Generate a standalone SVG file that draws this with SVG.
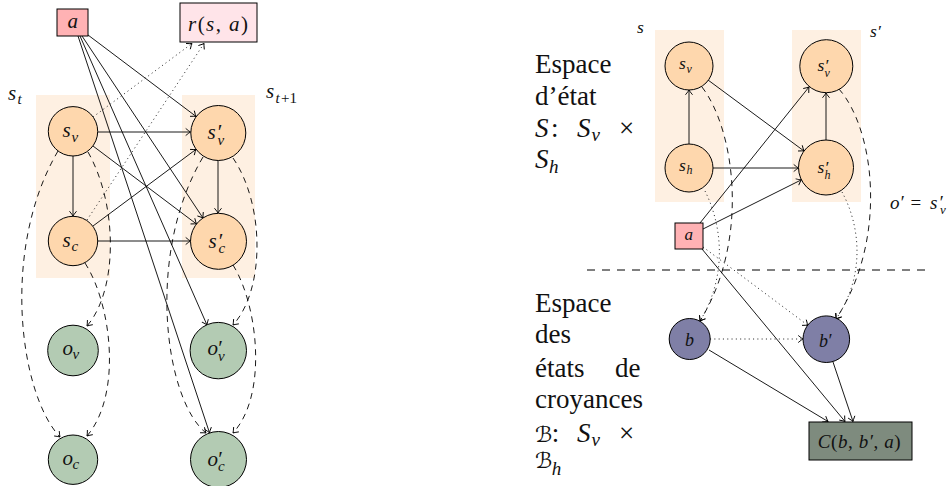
<svg xmlns="http://www.w3.org/2000/svg" width="952" height="486" viewBox="0 0 952 486" font-family="'Liberation Serif', 'Times New Roman', 'DejaVu Serif', serif">
  <defs>
    <style>
      .shade { fill: #fef0e2; stroke: none; }
      .state { fill: #fed7ad; stroke: #000; stroke-width: 1; }
      .obs { fill: #b3cbb3; stroke: #000; stroke-width: 1; }
      .belief { fill: #7f7fa6; stroke: #000; stroke-width: 1; }
      .act { fill: #ffb2b4; stroke: #000; stroke-width: 1; }
      .rew { fill: #ffe4e9; stroke: #000; stroke-width: 1; }
      .cost { fill: #7e8b7e; stroke: #000; stroke-width: 1; }
      .e { fill: none; stroke: #000; stroke-width: 0.9; marker-end: url(#ah); }
      .dash { stroke-dasharray: 6 5; }
      .dot { stroke: #333; stroke-width: 1; stroke-dasharray: 1.1 3.2; }
      .sep { fill: none; stroke: #000; stroke-width: 1; stroke-dasharray: 8 7; }
      text { font-family: 'Liberation Serif', 'Times New Roman', 'DejaVu Serif', serif; fill: #111; }
      .i { font-style: italic; }
      .L { font-size: 21px; }
      .LS { font-size: 15px; }
      .R { font-size: 17.5px; }
      .RS { font-size: 12px; }
      .T { font-size: 27px; }
      .TS { font-size: 19px; }
      .cal { font-family: 'DejaVu Serif', 'DejaVu Sans', serif; font-size: 22px; }
    </style>
    <marker id="ah" markerUnits="userSpaceOnUse" markerWidth="12" markerHeight="12" viewBox="-8 -6 10 12" refX="0" refY="0" orient="auto" overflow="visible">
      <path d="M-4.5,-3.3 Q-1.2,-0.6 0,0 Q-1.2,0.6 -4.5,3.3" fill="none" stroke="#000" stroke-width="0.9" stroke-dasharray="none" stroke-linecap="round"/>
    </marker>
  </defs>

  <!-- time-slice backgrounds -->
  <g id="slices">
    <rect class="shade" x="36" y="95" width="74" height="183"/>
    <rect class="shade" x="182" y="95" width="73" height="183"/>
    <rect class="shade" x="655" y="30" width="69" height="172"/>
    <rect class="shade" x="792" y="30" width="69" height="172"/>
  </g>

  <g id="connectors">
    <!-- left: action edges -->
    <path class="e" d="M88,35 L196,116.4"/>
    <path class="e" d="M82,36 L203,218"/>
    <path class="e" d="M80,36 L207,325"/>
    <path class="e" d="M78,36 L209.5,432.8"/>
    <!-- left: transitions -->
    <path class="e" d="M98,132 L190.5,132"/>
    <path class="e" d="M93,146 L196.5,224"/>
    <path class="e" d="M93,226 L196,149.4"/>
    <path class="e" d="M98,241 L190.5,241"/>
    <path class="e" d="M73,156 L73,216"/>
    <path class="e" d="M218,160.5 L218,213"/>
    <!-- left: reward -->
    <path class="e dot" d="M93,117 L192,43.5"/>
    <path class="e dot" d="M87,220 L204,43.5"/>
    <!-- left: observations -->
    <path class="e dash" d="M58,151 C0,250 20,395 60,437"/>
    <path class="e dash" d="M88,152 C118,205 118,290 87,326"/>
    <path class="e dash" d="M85,263 C112,305 122,395 87,436"/>
    <path class="e dash" d="M203,157 C145,255 165,400 206,433"/>
    <path class="e dash" d="M233,158 C265,205 265,290 233,325"/>
    <path class="e dash" d="M233,265 C258,305 268,395 233,433"/>

    <!-- right: state transitions -->
    <path class="e" d="M689,144 L689,90"/>
    <path class="e" d="M826,140 L826,93"/>
    <path class="e" d="M708,80 L804,151"/>
    <path class="e" d="M713,168 L798.5,168"/>
    <path class="e" d="M700,223 L809,87"/>
    <path class="e" d="M703,229 L801.4,179.8"/>
    <!-- right: cost -->
    <path class="e" d="M702,249 L845,421.5"/>
    <path class="e" d="M709,350 L828,421.5"/>
    <path class="e" d="M833,362 L853,421.5"/>
    <!-- right: belief updates -->
    <path class="e dot" d="M710,339 L803,339"/>
    <path class="e dot" d="M703,247 L808,325.4"/>
    <path class="e dot" d="M705,191 C722,225 728,275 700,321"/>
    <path class="e dot" d="M842,192 C860,225 866,275 836,319"/>
    <path class="e dash" d="M702,87 C735,130 750,240 700,321"/>
    <path class="e dash" d="M839,89 C875,130 888,240 836,319"/>
    <!-- separator between state and belief spaces -->
    <path class="sep" d="M587,270 L925,270"/>
  </g>

  <!-- left diagram nodes -->
  <g id="a-left">
    <rect class="act" x="57" y="9" width="31" height="27"/>
    <text class="L i" x="67.5" y="28">a</text>
  </g>
  <g id="reward">
    <rect class="rew" x="180" y="3" width="77" height="39"/>
    <text class="L" x="188" y="30.5" textLength="60" lengthAdjust="spacing"><tspan class="i">r</tspan>(<tspan class="i">s</tspan>, <tspan class="i">a</tspan>)</text>
  </g>
  <g id="sv-left">
    <circle class="state" cx="73" cy="131.3" r="24.7"/>
    <text class="L i"><tspan x="62.5" y="137">s</tspan><tspan class="LS" x="71.5" y="141.5">v</tspan></text>
  </g>
  <g id="sc-left">
    <circle class="state" cx="73" cy="241" r="24.7"/>
    <text class="L i"><tspan x="62.5" y="246.5">s</tspan><tspan class="LS" x="71.5" y="250.5">c</tspan></text>
  </g>
  <g id="sv-next">
    <circle class="state" cx="218.3" cy="133" r="27.5"/>
    <text class="L i"><tspan x="207.5" y="139">s</tspan><tspan x="216.5" y="139">′</tspan><tspan class="LS" x="217.5" y="144.5">v</tspan></text>
  </g>
  <g id="sc-next">
    <circle class="state" cx="218.5" cy="241.3" r="28"/>
    <text class="L i"><tspan x="208.5" y="248">s</tspan><tspan x="217.5" y="248">′</tspan><tspan class="LS" x="218.5" y="253">c</tspan></text>
  </g>
  <g id="ov">
    <circle class="obs" cx="73" cy="350.5" r="25.3"/>
    <text class="L i"><tspan x="62.5" y="355">o</tspan><tspan class="LS" x="72.5" y="359">v</tspan></text>
  </g>
  <g id="oc">
    <circle class="obs" cx="73" cy="459.7" r="24.7"/>
    <text class="L i"><tspan x="62.5" y="464.5">o</tspan><tspan class="LS" x="72.5" y="468.5">c</tspan></text>
  </g>
  <g id="ov-next">
    <circle class="obs" cx="218.3" cy="350.6" r="28.2"/>
    <text class="L i"><tspan x="207.5" y="355">o</tspan><tspan x="217" y="355">′</tspan><tspan class="LS" x="218" y="361">v</tspan></text>
  </g>
  <g id="oc-next">
    <circle class="obs" cx="218.5" cy="459.5" r="28"/>
    <text class="L i"><tspan x="207.5" y="465.5">o</tspan><tspan x="217" y="465.5">′</tspan><tspan class="LS" x="218" y="470.5">c</tspan></text>
  </g>

  <!-- right diagram nodes -->
  <g id="sv-r">
    <circle class="state" cx="689" cy="66" r="24"/>
    <text class="R i"><tspan x="679" y="69">s</tspan><tspan class="RS" x="686.5" y="72.5">v</tspan></text>
  </g>
  <g id="sh-r">
    <circle class="state" cx="689" cy="168" r="24"/>
    <text class="R i"><tspan x="679" y="170.5">s</tspan><tspan class="RS" x="686.5" y="174">h</tspan></text>
  </g>
  <g id="sv-r-next">
    <circle class="state" cx="826.3" cy="66.2" r="26.5"/>
    <text class="R i"><tspan x="817.5" y="71">s</tspan><tspan x="824.5" y="71">′</tspan><tspan class="RS" x="824.5" y="77">v</tspan></text>
  </g>
  <g id="sh-r-next">
    <circle class="state" cx="826" cy="167.5" r="27.5"/>
    <text class="R i"><tspan x="817.5" y="172.5">s</tspan><tspan x="824.5" y="172.5">′</tspan><tspan class="RS" x="824.5" y="179">h</tspan></text>
  </g>
  <g id="a-r">
    <rect class="act" x="675" y="223" width="28" height="26"/>
    <text class="i" font-size="17" x="684.5" y="240">a</text>
  </g>
  <g id="b">
    <circle class="belief" cx="689.7" cy="339" r="20.5"/>
    <text class="i" font-size="18" x="685" y="346">b</text>
  </g>
  <g id="b-next">
    <circle class="belief" cx="826.3" cy="339.2" r="23.3"/>
    <text class="i" font-size="18"><tspan x="819" y="346.5">b</tspan><tspan x="827.5" y="346.5">′</tspan></text>
  </g>
  <g id="cost">
    <rect class="cost" x="809" y="422" width="103" height="38"/>
    <text font-size="19" x="817.7" y="448.3" textLength="83" lengthAdjust="spacing"><tspan class="i">C</tspan>(<tspan class="i">b</tspan>, <tspan class="i">b′</tspan>, <tspan class="i">a</tspan>)</text>
  </g>

  <!-- slice and space labels -->
  <g id="labels">
    <text class="L i"><tspan x="8" y="100">s</tspan><tspan class="LS" x="17.5" y="104">t</tspan></text>
    <text class="L i"><tspan x="266" y="98">s</tspan><tspan class="LS" x="275.5" y="102.5">t</tspan><tspan class="LS" font-style="normal" x="281" y="102.5">+1</tspan></text>
    <text class="R i" x="637" y="33">s</text>
    <text class="R i"><tspan x="870" y="36.5">s</tspan><tspan x="877" y="36.5">′</tspan></text>
    <text font-size="19"><tspan class="i" x="890" y="208.5">o</tspan><tspan class="i" x="899.5" y="208.5">′</tspan><tspan x="910.5" y="208.5">=</tspan><tspan class="i" x="930" y="208.5">s</tspan><tspan class="i" x="938.5" y="208.5">′</tspan><tspan class="i" font-size="13" x="940" y="213.5">v</tspan></text>

    <text class="T">
      <tspan x="535" y="72.5">Espace</tspan>
      <tspan x="535" y="105">d’état</tspan>
      <tspan class="i" x="535" y="136.7">S</tspan><tspan x="551" y="136.7">:</tspan><tspan class="i" x="577" y="136.7">S</tspan><tspan class="i TS" x="591.5" y="140.5">v</tspan><tspan x="619" y="136.7">×</tspan>
      <tspan class="i" x="535" y="168.3">S</tspan><tspan class="i TS" x="549" y="173">h</tspan>
    </text>
    <text class="T">
      <tspan x="535" y="311.7">Espace</tspan>
      <tspan x="535" y="343.3">des</tspan>
      <tspan x="535" y="376.7">états</tspan><tspan x="615" y="376.7">de</tspan>
      <tspan x="535" y="408.3">croyances</tspan>
      <tspan class="cal" x="535" y="441.7">ℬ</tspan><tspan x="551.7" y="441.7">:</tspan><tspan class="i" x="577" y="441.7">S</tspan><tspan class="i TS" x="591.5" y="446">v</tspan><tspan x="619" y="441.7">×</tspan>
      <tspan class="cal" x="535" y="468.3">ℬ</tspan><tspan class="i TS" x="551.7" y="475">h</tspan>
    </text>
  </g>
</svg>
